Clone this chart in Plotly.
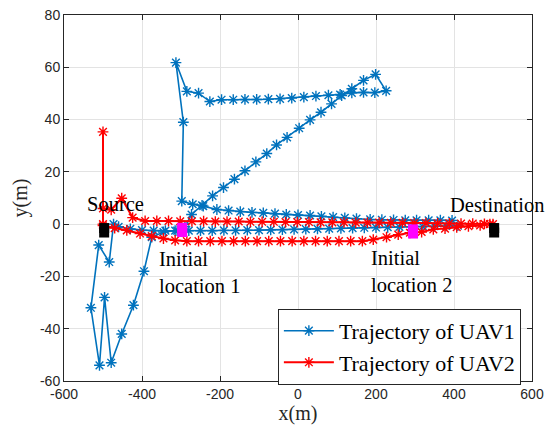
import plotly.graph_objects as go

# ---------------- data ----------------
# UAV1 trajectory (None = break in the line)
uav1_x = [-473, -484, -511, -531, -509, -496, -479, -452, -422, -395, -375, -345, -315, -290,
          -273, -246, -219, -191, -163, -136, -108, -80, -55, -28, 3, 31, 59, 86, 112, 138, 168, 199,
          226,
          197, 168, 138, 108, 78, 46, 15, -16, -46, -76, -106, -136, -166, -196, -226, -255, -285,
          -313, -294, -298,
          -270, -243, -208, -178, -148, -118, -89, -59, -30, 0, 31, 60, 90, 120, 150, 185, 215, 245,
          275, 304, 335, 365, 395,
          None,
          -460, -430, -400, -370, -340, -310, -280, -250, -220, -190, -160, -130, -100, -70, -40, -10,
          20, 50, 80, 110, 140, 170, 200, 230, 260, 290, 320, 350, 380, 410]
uav1_y = [0, -14.5, -8, -32, -54, -28, -53, -42, -31, -18, -5, -3, -2.5, -1,
          3.7, 7.2, 10.8, 14, 17.2, 20.4, 23.8, 27, 30.3, 33.2, 36.7, 39.9, 42.8, 46, 49.2, 51.8, 55, 57.3,
          51,
          50.3, 50.4, 50.2, 49.6, 49.3, 49.0, 48.6, 48.2, 47.9, 47.8, 47.7, 47.7, 47.6, 47.6, 46.9, 50.1, 50.8,
          61.8, 39, 8.8,
          7.6, 6.9, 5.6, 5.2, 4.8, 4.5, 4.3, 4.0, 3.7, 3.5, 3.3, 3.0, 2.7, 2.4, 2.1, 1.8, 1.7, 1.6,
          1.5, 1.5, 1.5, 1.5, 1.4,
          None,
          -1.0, -1.8, -2.3, -2.5, -2.5, -2.5, -2.5, -2.5, -2.5, -2.4, -2.4, -2.3, -2.3, -2.2, -2.1, -2.0,
          -1.9, -1.8, -1.7, -1.6, -1.5, -1.4, -1.3, -1.2, -1.1, -1.0, -0.9, -0.8, -0.7, -0.6]

# UAV2 trajectory
uav2_x = [-500, -500, -500, -479, -452, -424,
          -392, -362, -332, -302, -272, -242, -212, -182, -152, -122, -92, -62, -32, -2, 28, 58, 88,
          118, 148, 178, 208, 238, 268, 298, 328, 358, 388, 418, 448, 478, 500,
          None,
          -500, -470, -439, -405, -375, -345, -315, -285, -255, -225, -195, -165, -135, -105, -75, -45,
          -15, 15, 45, 75, 105, 135, 165, 193, 227, 257, 287, 317, 347, 377, 407, 437, 467, 492]
uav2_y = [0, 35.3, 6, 5.5, 9.9, 2.5,
          1.2, 1.2, 1.2, 1.1, 1.1, 1.1, 1.0, 1.0, 1.0, 0.9, 0.9, 0.9, 0.8, 0.8, 0.8, 0.7, 0.7,
          0.7, 0.6, 0.6, 0.6, 0.5, 0.5, 0.4, 0.4, 0.3, 0.3, 0.2, 0.2, 0.1, 0.0,
          None,
          -0.5, -1.5, -2.4, -3.6, -4.6, -5.5, -6.2, -6.5, -6.5, -6.5, -6.5, -6.5, -6.5, -6.5, -6.5, -6.5,
          -6.5, -6.5, -6.5, -6.5, -6.5, -6.5, -6.5, -5.9, -5.0, -4.0, -3.3, -3.0, -2.0, -1.7, -1.2, -0.8, -0.5, 0.0]

# source / destination (black) and initial locations (magenta)
sd_x = [-497, -497, 503, 503]
sd_y = [-1.5, -3.2, -1.5, -3.2]
init_x = [-297, -297, 295, 295]
init_y = [-1.4, -3.0, -2.0, -3.6]

# text labels
label_text = ["Source", "Destination", "Initial<br>location 1", "Initial<br>location 2"]
label_x = [-546, 385, -361, 182]
label_y = [7.7, 7.4, -18.6, -18.3]

x_ticks = [-600, -400, -200, 0, 200, 400, 600]
x_ticktext = ["-600", "-400", "-200", "0", "200", "400", "600"]
y_ticks = [-60, -40, -20, 0, 20, 40, 60, 80]
y_ticktext = ["-60", "-40", "-20", "0", "20", "40", "60", "80"]

BLUE = "#0072BD"
RED = "#FF0000"
SERIF = "Liberation Serif, Times New Roman, serif"
SANS = "Liberation Sans, Arial, sans-serif"

fig = go.Figure()

fig.add_trace(go.Scatter(
    x=uav1_x, y=uav1_y, mode="lines+markers", name="Trajectory of UAV1",
    line=dict(color=BLUE, width=1.6),
    marker=dict(symbol="asterisk-open", size=9, color=BLUE, line=dict(color=BLUE, width=1.4)),
))
fig.add_trace(go.Scatter(
    x=uav2_x, y=uav2_y, mode="lines+markers", name="Trajectory of UAV2",
    line=dict(color=RED, width=2),
    marker=dict(symbol="asterisk-open", size=9, color=RED, line=dict(color=RED, width=1.4)),
))
fig.add_trace(go.Scatter(
    x=sd_x, y=sd_y, mode="markers", showlegend=False,
    marker=dict(symbol="square", size=10, color="black", line=dict(width=0)),
))
fig.add_trace(go.Scatter(
    x=init_x, y=init_y, mode="markers", showlegend=False,
    marker=dict(symbol="square", size=10, color="#FF00FF", line=dict(width=0)),
))

for t, x, y in zip(label_text, label_x, label_y):
    fig.add_annotation(x=x, y=y, text=t, showarrow=False, xanchor="left", yanchor="middle",
                       align="left", font=dict(family=SERIF, size=20.5, color="black"))

axis_common = dict(
    showgrid=True, gridcolor="#e3e3e3", gridwidth=1,
    showline=True, linecolor="#262626", linewidth=1, mirror="ticks",
    ticks="inside", ticklen=5, tickcolor="#262626", automargin=False,
    zeroline=False, tickfont=dict(family=SANS, size=14, color="#262626"),
)

fig.update_xaxes(range=[-600, 600], tickvals=x_ticks, ticktext=x_ticktext,
                 title=dict(text="x(m)", font=dict(family=SERIF, size=20, color="#262626"), standoff=2),
                 **axis_common)
fig.update_yaxes(range=[-60, 80], tickvals=y_ticks, ticktext=y_ticktext,
                 title=dict(text="y(m)", font=dict(family=SERIF, size=20, color="#262626"), standoff=6),
                 **axis_common)

fig.update_layout(
    width=547, height=436,
    margin=dict(l=64, r=15, t=15, b=55),
    plot_bgcolor="white", paper_bgcolor="white",
    legend=dict(x=0.457, y=0.197, xanchor="left", yanchor="top",
                bgcolor="white", bordercolor="#262626", borderwidth=1,
                font=dict(family=SERIF, size=22, color="black"),
                tracegroupgap=0, itemwidth=50),
    showlegend=True,
)

fig.write_html("out.html", config={"displayModeBar": False},
               post_script="document.body.style.margin='0px';document.body.style.overflow='hidden';")
